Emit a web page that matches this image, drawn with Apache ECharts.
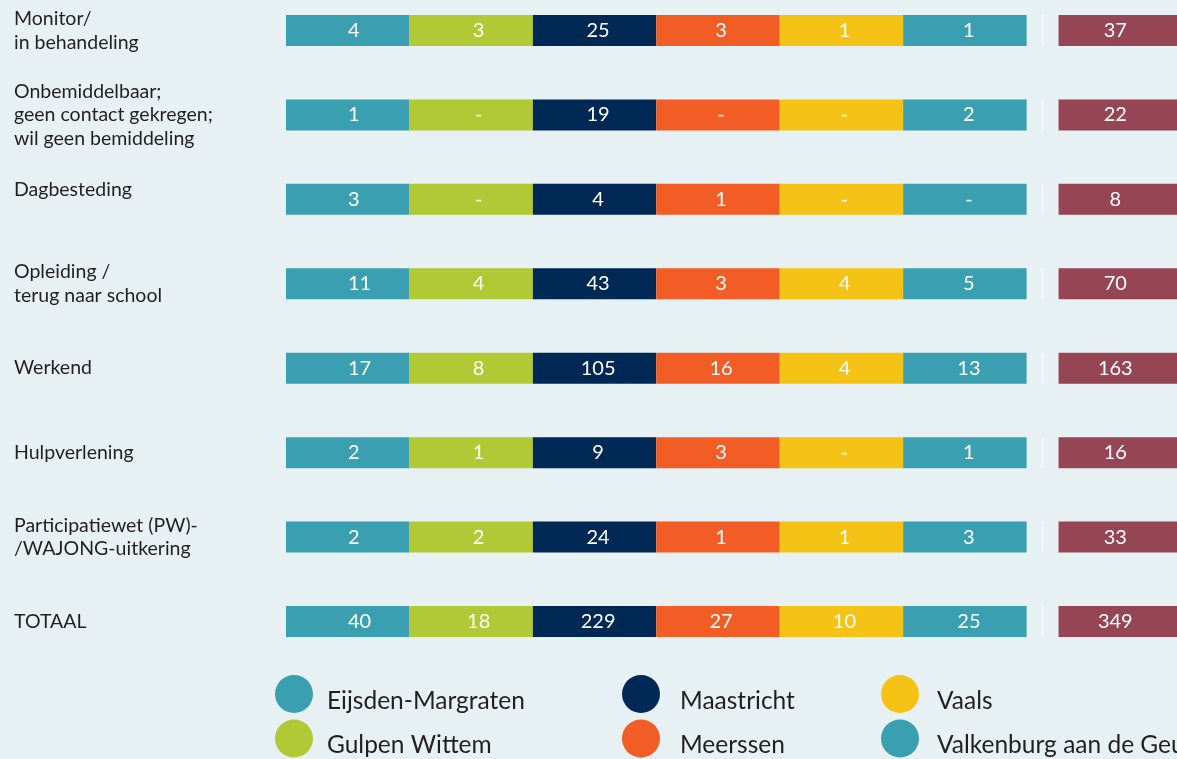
<!DOCTYPE html>
<html>
<head>
<meta charset="utf-8">
<script src="https://cdn.jsdelivr.net/npm/echarts@6/dist/echarts.min.js"></script>
<style>
  html, body { margin: 0; padding: 0; background: #e7f0f3; }
  #chart { width: 1177px; height: 759px; }
</style>
</head>
<body>
<div id="chart"></div>
<script>
// rows of the table
const rowLabels = [
  'Monitor/\nin behandeling',
  'Onbemiddelbaar;\ngeen contact gekregen;\nwil geen bemiddeling',
  'Dagbesteding',
  'Opleiding /\nterug naar school',
  'Werkend',
  'Hulpverlening',
  'Participatiewet (PW)-\n/WAJONG-uitkering',
  'TOTAAL'
];

const municipalities = ['Eijsden-Margraten', 'Gulpen Wittem', 'Maastricht', 'Meerssen', 'Vaals', 'Valkenburg aan de Geul'];
const colors = ['#3a9fb0', '#b1c935', '#002855', '#f15d24', '#f5c216', '#3a9fb0'];

// counts per municipality, one value per row (0 is shown as "-")
const eijsdenMargraten = [4, 1, 3, 11, 17, 2, 2, 40];
const gulpenWittem = [3, 0, 0, 4, 8, 1, 2, 18];
const maastricht = [25, 19, 4, 43, 105, 9, 24, 229];
const meerssen = [3, 0, 1, 3, 16, 3, 1, 27];
const vaals = [1, 0, 0, 4, 4, 0, 1, 10];
const valkenburg = [1, 2, 0, 5, 13, 1, 3, 25];
const totals = [37, 22, 8, 70, 163, 16, 33, 349];

const counts = [eijsdenMargraten, gulpenWittem, maastricht, meerssen, vaals, valkenburg];

const GAP = 0.259; // space between the municipality cells and the total cell
const CELL = 1;    // every cell has the same width

// small horizontal nudges of the numbers, as in the original table
const labelShift = [0, 7.5, 3.5, 3, 3, 4];

const chart = echarts.init(document.getElementById('chart'));

const cellLabel = (arr, extra) => Object.assign({
  show: true,
  position: 'inside',
  color: '#fff',
  fontFamily: 'Lato',
  fontSize: 20,
  formatter: p => (arr[p.dataIndex] === 0 ? '-' : String(arr[p.dataIndex]))
}, extra);

const series = municipalities.map((name, i) => ({
  name: name,
  type: 'bar',
  stack: 'row',
  barWidth: 31,
  itemStyle: { color: colors[i] },
  label: i === 0
    ? cellLabel(counts[i], { position: 'insideLeft', distance: 62 })
    : cellLabel(counts[i], { offset: [labelShift[i], 0] }),
  data: rowLabels.map(() => CELL),
  silent: true
}));

series.push({
  name: 'gap',
  type: 'bar',
  stack: 'row',
  barWidth: 31,
  itemStyle: { color: 'rgba(0,0,0,0)' },
  data: rowLabels.map(() => GAP),
  silent: true
});

series.push({
  name: 'Totaal',
  type: 'bar',
  stack: 'row',
  barWidth: 31,
  itemStyle: { color: '#954553' },
  label: cellLabel(totals, { offset: [-5, 0] }),
  data: rowLabels.map(() => CELL),
  silent: true
});

// thin white separator in the gap
series.push({
  name: 'sep',
  type: 'scatter',
  symbol: 'rect',
  symbolSize: [1.5, 31],
  itemStyle: { color: '#ffffff' },
  data: rowLabels.map((r, i) => [6 * CELL + GAP / 2, i]),
  silent: true,
  z: 5
});

const legendText = (pad) => ({
  color: '#231f20',
  fontFamily: 'Lato',
  fontSize: 24.5,
  rich: {
    t: { color: '#231f20', fontFamily: 'Lato', fontSize: 24.5, padding: [14, 0, 0, pad] }
  }
});

const legendBase = {
  orient: 'vertical',
  icon: 'circle',
  itemWidth: 38,
  itemHeight: 38,
  itemGap: 6,
  padding: 0,
  top: 675,
  selectedMode: false,
  formatter: name => '{t|' + name + '}'
};

chart.setOption({
  backgroundColor: '#e7f0f3',
  animation: false,
  grid: { left: 286, width: 896, top: -11.7, height: 675.4, outerBoundsMode: 'none' },
  xAxis: {
    type: 'value',
    min: 0,
    max: 7 * CELL + GAP,
    show: false
  },
  yAxis: {
    type: 'category',
    inverse: true,
    data: rowLabels,
    axisLine: { show: false },
    axisTick: { show: false },
    splitLine: { show: false },
    axisLabel: {
      align: 'left',
      margin: 272,
      color: '#231f20',
      fontFamily: 'Lato',
      fontSize: 19.5,
      lineHeight: 23.5,
      // this one label sits a bit higher than its bar
      formatter: v => (v === 'Dagbesteding' ? '{up|' + v + '}' : v),
      rich: {
        up: { fontFamily: 'Lato', fontSize: 19.5, color: '#231f20', padding: [0, 0, 20, 0] }
      }
    }
  },
  legend: [
    Object.assign({}, legendBase, { left: 275, data: [municipalities[0], municipalities[1]], textStyle: legendText(9) }),
    Object.assign({}, legendBase, { left: 622, data: [municipalities[2], municipalities[3]], textStyle: legendText(15) }),
    Object.assign({}, legendBase, { left: 881, data: [municipalities[4], municipalities[5]], textStyle: legendText(13) })
  ],
  series: series
});
</script>
</body>
</html>
